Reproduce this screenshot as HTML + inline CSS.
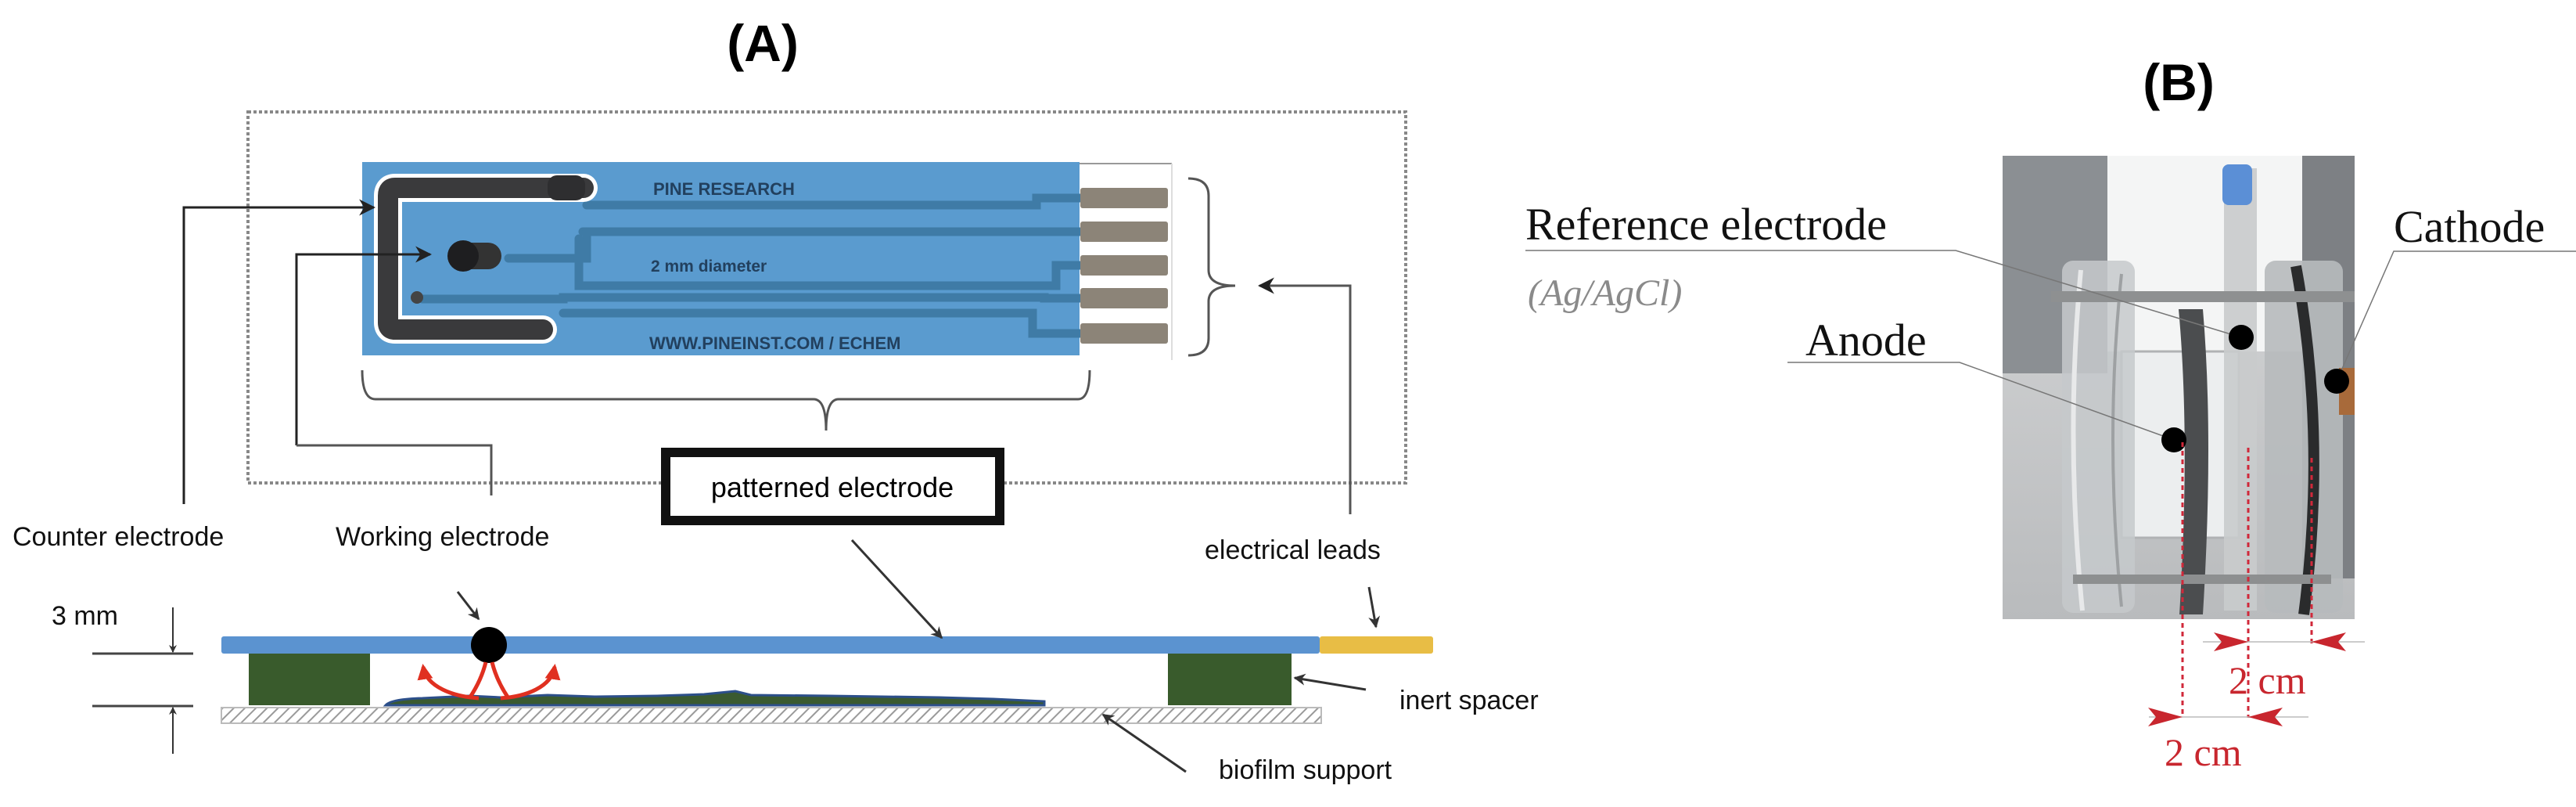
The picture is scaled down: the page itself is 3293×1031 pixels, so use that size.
<!DOCTYPE html>
<html><head><meta charset="utf-8"><style>
html,body{margin:0;padding:0;background:#fff;}
svg{display:block;}
</style></head><body>
<svg width="3293" height="1031" viewBox="0 0 3293 1031" xmlns="http://www.w3.org/2000/svg">
<defs>
<pattern id="hatch" width="10" height="10" patternUnits="userSpaceOnUse" patternTransform="rotate(45)">
<rect width="10" height="10" fill="#fff"/><line x1="0" y1="0" x2="0" y2="10" stroke="#9a9a9a" stroke-width="4"/>
</pattern>
<marker id="ah" viewBox="0 0 10 10" refX="9" refY="5" markerWidth="7" markerHeight="7" orient="auto"><path d="M0,0 L10,5 L0,10 L3,5z" fill="#222"/></marker>
<marker id="ahs" viewBox="0 0 10 10" refX="9" refY="5" markerWidth="5" markerHeight="5" orient="auto"><path d="M0,0 L10,5 L0,10 L3,5z" fill="#333"/></marker>
<marker id="ahr" viewBox="0 0 10 10" refX="8" refY="5" markerWidth="4" markerHeight="4" orient="auto"><path d="M0,0 L10,5 L0,10z" fill="#e03020"/></marker>
<linearGradient id="floor" x1="0" y1="0" x2="0" y2="1"><stop offset="0" stop-color="#d8d9da"/><stop offset="1" stop-color="#b9bbbd"/></linearGradient>
</defs>

<text x="975" y="78" font-family="Liberation Sans, sans-serif" font-weight="bold" font-size="66" text-anchor="middle">(A)</text>

<rect x="317" y="143" width="1480" height="474" fill="none" stroke="#888" stroke-width="4" stroke-dasharray="4 3"/>

<line x1="1380" y1="209" x2="1498" y2="209" stroke="#999" stroke-width="2"/>
<line x1="1498" y1="209" x2="1498" y2="460" stroke="#ddd" stroke-width="2"/>

<rect x="463" y="207" width="917" height="247" fill="#5a9bcf"/>
<g stroke="#3f7ba6" stroke-width="11" fill="none" stroke-linecap="round">
<path d="M750,262 H1325 V253 H1390"/>
<path d="M745,296 H1350 H1390"/>
<path d="M650,330 H750 V296"/>
<path d="M740,305 V365 H1350 V339 H1390"/>
<path d="M540,382 H720 V380 H1335 V381 H1390"/>
<path d="M720,400 H1320 V426 H1390"/>
</g>
<g fill="#8c8478">
<rect x="1381" y="240" width="112" height="26" rx="3"/>
<rect x="1381" y="283" width="112" height="26" rx="3"/>
<rect x="1381" y="326" width="112" height="26" rx="3"/>
<rect x="1381" y="368" width="112" height="26" rx="3"/>
<rect x="1381" y="413" width="112" height="26" rx="3"/>
</g>
<path d="M746,240 H505 Q496,240 496,250 V412 Q496,421 505,421 H694" fill="none" stroke="#fff" stroke-width="36" stroke-linecap="round"/>
<path d="M746,240 H505 Q496,240 496,250 V412 Q496,421 505,421 H694" fill="none" stroke="#3a3a3c" stroke-width="26" stroke-linecap="round"/>
<rect x="700" y="224" width="48" height="32" rx="12" fill="#2e2e30"/>
<rect x="575" y="310" width="66" height="34" rx="17" fill="#333"/>
<circle cx="592" cy="327" r="20" fill="#1e1e20"/>
<circle cx="533" cy="380" r="8" fill="#444"/>
<g font-family="Liberation Sans, sans-serif" font-weight="bold" fill="#22405e">
<text x="835" y="249" font-size="22">PINE RESEARCH</text>
<text x="832" y="347" font-size="21">2 mm diameter</text>
<text x="830" y="446" font-size="22">WWW.PINEINST.COM / ECHEM</text>
</g>

<path d="M463,473 Q463,510 480,510 H1040 Q1056,510 1056,550 Q1056,510 1072,510 H1378 Q1393,510 1393,473" fill="none" stroke="#555" stroke-width="3"/>
<path d="M1519,228 Q1545,228 1545,250 V345 Q1545,365 1579,365 Q1545,365 1545,385 V432 Q1545,454 1519,454" fill="none" stroke="#555" stroke-width="3"/>

<polyline points="235,644 235,265 478,265" fill="none" stroke="#222" stroke-width="3" marker-end="url(#ah)"/>
<polyline points="379,569 379,325 550,325" fill="none" stroke="#222" stroke-width="3" marker-end="url(#ah)"/>
<polyline points="379,569 628,569 628,633" fill="none" stroke="#555" stroke-width="3"/>
<polyline points="1726,657 1726,365 1610,365" fill="none" stroke="#555" stroke-width="3" marker-end="url(#ah)"/>

<rect x="851" y="578" width="427" height="87" fill="#fff" stroke="#111" stroke-width="12"/>
<text x="1064" y="635" font-family="Liberation Sans, sans-serif" font-size="36" text-anchor="middle">patterned electrode</text>

<g font-family="Liberation Sans, sans-serif" font-size="34" fill="#111">
<text x="16" y="697">Counter electrode</text>
<text x="429" y="697">Working electrode</text>
<text x="66" y="798">3 mm</text>
<text x="1540" y="714">electrical leads</text>
<text x="1789" y="906">inert spacer</text>
<text x="1558" y="995">biofilm support</text>
</g>

<line x1="118" y1="835" x2="247" y2="835" stroke="#444" stroke-width="3"/>
<line x1="118" y1="902" x2="247" y2="902" stroke="#444" stroke-width="3"/>
<line x1="221" y1="776" x2="221" y2="833" stroke="#333" stroke-width="2" marker-end="url(#ahs)"/>
<line x1="221" y1="963" x2="221" y2="904" stroke="#333" stroke-width="2" marker-end="url(#ahs)"/>

<rect x="283" y="904" width="1406" height="20" fill="url(#hatch)" stroke="#bbb" stroke-width="2"/>
<rect x="318" y="835" width="155" height="66" fill="#395b2c"/>
<rect x="1493" y="835" width="158" height="66" fill="#395b2c"/>
<path d="M493,901 Q500,893 540,892 L600,889 L640,891 L700,888 L760,890 L840,889 L900,887 L940,883 L960,888 L1060,889 L1200,891 L1270,893 L1335,896 L1335,901 Z" fill="#3a5a30" stroke="#2c4f8a" stroke-width="3"/>
<rect x="283" y="813" width="1404" height="22" rx="3" fill="#5b93d0"/>
<rect x="1687" y="813" width="145" height="22" rx="3" fill="#e8bd45"/>
<circle cx="625" cy="824" r="23" fill="#000"/>
<g fill="none" stroke="#e03020" stroke-width="5">
<path d="M612,892 C580,890 545,878 541,852" marker-end="url(#ahr)"/>
<path d="M600,892 Q615,870 621,846"/>
<path d="M650,892 Q635,870 629,846"/>
<path d="M640,892 C672,890 705,878 709,852" marker-end="url(#ahr)"/>
</g>

<g stroke="#333" stroke-width="3" fill="none" marker-end="url(#ahs)">
<line x1="585" y1="756" x2="612" y2="791"/>
<line x1="1089" y1="690" x2="1204" y2="815"/>
<line x1="1750" y1="750" x2="1759" y2="801"/>
<line x1="1746" y1="881" x2="1655" y2="866"/>
<line x1="1516" y1="986" x2="1410" y2="913"/>
</g>

<text x="2785" y="128" font-family="Liberation Sans, sans-serif" font-weight="bold" font-size="66" text-anchor="middle">(B)</text>

<g>
<rect x="2560" y="199" width="450" height="592" fill="url(#floor)"/>
<rect x="2560" y="199" width="134" height="278" fill="#8b8f93"/>
<rect x="2694" y="199" width="249" height="250" fill="#f4f5f5"/>
<rect x="2943" y="199" width="67" height="540" fill="#7d8084"/>
<rect x="2712" y="449" width="150" height="238" fill="#eceeef" stroke="#b0b2b4" stroke-width="3"/>
<rect x="2636" y="333" width="93" height="450" rx="14" fill="#c6c9cb" opacity="0.85"/>
<path d="M2660,345 Q2640,560 2662,780" stroke="#e8e9ea" stroke-width="6" fill="none"/>
<path d="M2712,350 Q2690,560 2712,775" stroke="#9ea1a3" stroke-width="4" fill="none"/>
<rect x="2895" y="333" width="100" height="450" rx="14" fill="#b7babc" opacity="0.9"/>
<path d="M2935,340 Q2975,560 2945,785" stroke="#2a2b2c" stroke-width="14" fill="none"/>
<path d="M2785,395 Q2800,560 2786,785 L2816,785 Q2830,560 2816,395 Z" fill="#4b4d4f"/>
<rect x="2843" y="215" width="42" height="565" fill="#c9cbcc" opacity="0.9"/>
<rect x="2841" y="210" width="38" height="52" rx="8" fill="#5b8fd6"/>
<rect x="2622" y="372" width="388" height="14" fill="#8e9091"/>
<rect x="2650" y="734" width="330" height="12" fill="#8d8f90"/>
<rect x="2990" y="470" width="20" height="60" fill="#a86a3a"/>
</g>

<g font-family="Liberation Serif, serif" fill="#111">
<text x="1950" y="306" font-size="58">Reference electrode</text>
<text x="1953" y="390" font-size="48" font-style="italic" fill="#8a8a8a">(Ag/AgCl)</text>
<text x="2308" y="454" font-size="58">Anode</text>
<text x="3060" y="309" font-size="58">Cathode</text>
</g>
<g stroke="#777" stroke-width="1.5" fill="none">
<polyline points="1950,320 2500,320 2865,431"/>
<polyline points="2285,463 2505,463 2779,562"/>
<polyline points="3293,321 3060,321 2987,487"/>
</g>
<circle cx="2865" cy="431" r="16" fill="#000"/>
<circle cx="2779" cy="562" r="16" fill="#000"/>
<circle cx="2987" cy="487" r="16" fill="#000"/>

<g stroke="#d0283a" stroke-width="3" stroke-dasharray="6 5" fill="none">
<line x1="2790" y1="565" x2="2790" y2="917"/>
<line x1="2874" y1="572" x2="2874" y2="917"/>
<line x1="2955" y1="585" x2="2955" y2="822"/>
</g>
<line x1="2816" y1="820" x2="3023" y2="820" stroke="#bbb" stroke-width="1.5"/>
<line x1="2747" y1="916" x2="2951" y2="916" stroke="#bbb" stroke-width="1.5"/>
<g fill="#c8262e">
<path d="M2874,820 L2830,808 L2840,820 L2830,832Z"/>
<path d="M2955,820 L2999,808 L2989,820 L2999,832Z"/>
<path d="M2790,916 L2746,904 L2756,916 L2746,928Z"/>
<path d="M2874,916 L2918,904 L2908,916 L2918,928Z"/>
</g>
<g font-family="Liberation Serif, serif" font-size="50" fill="#c8262e">
<text x="2849" y="886">2 cm</text>
<text x="2767" y="978">2 cm</text>
</g>
</svg>
</body></html>
